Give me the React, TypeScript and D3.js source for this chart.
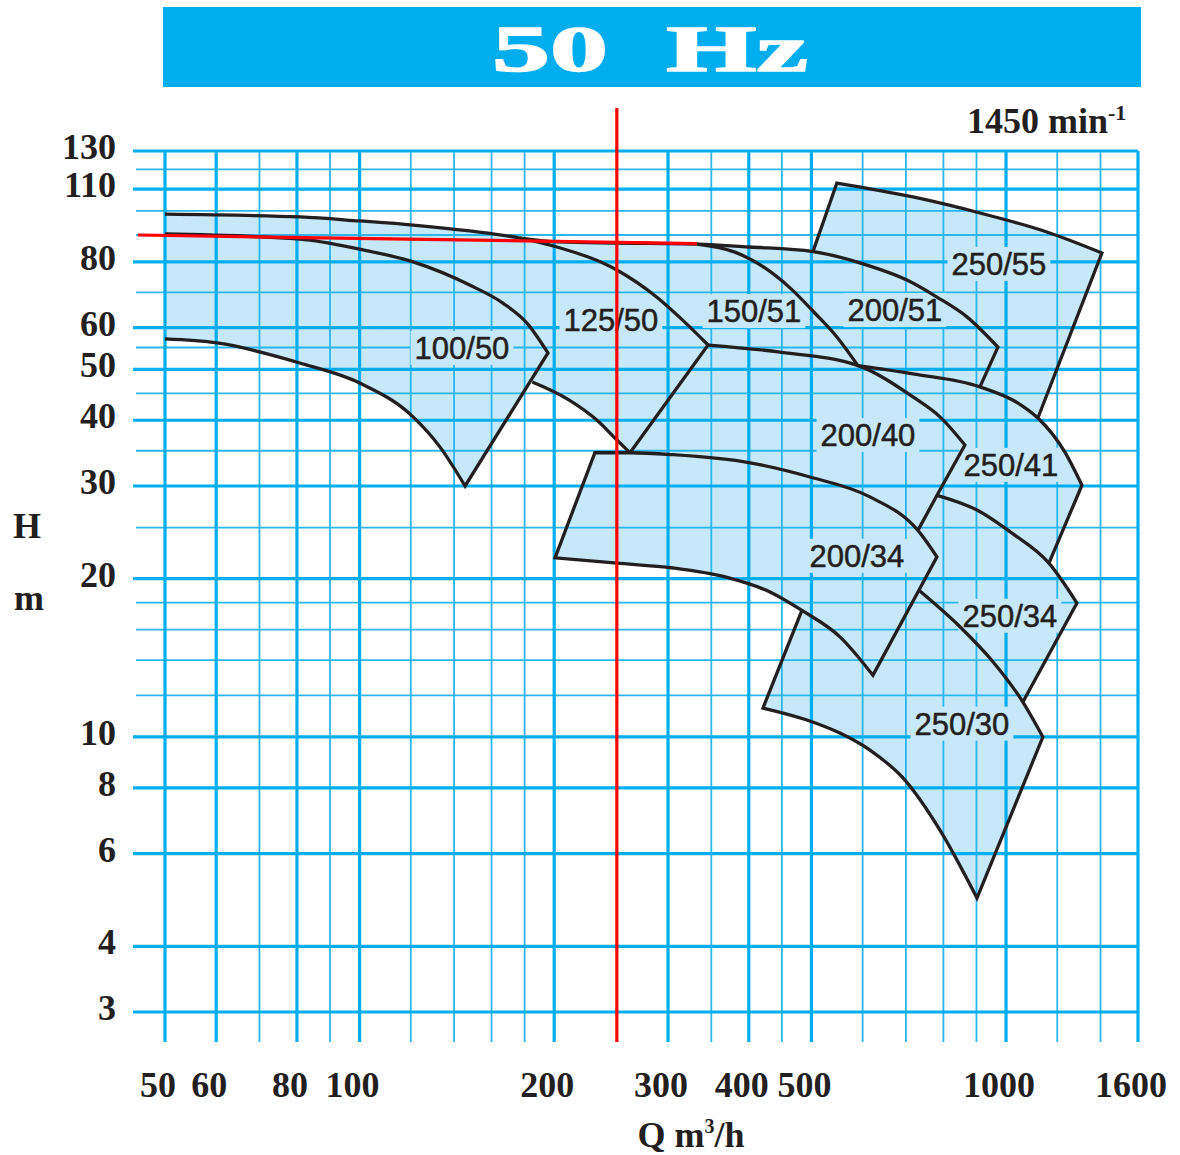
import React from 'react';
import * as d3 from 'd3';

type Pt = [number, number]; // [Q m³/h, H m]

// Grid values
const qMajor = [50, 60, 80, 100, 200, 300, 400, 500, 1000, 1600];
const qMinor = [70, 90, 120, 140, 160, 180, 250, 350, 450, 600, 700, 800, 900, 1200, 1400];
const hMajor = [3, 4, 6, 8, 10, 20, 30, 40, 50, 60, 80, 110, 130];
const hMinor = [12, 14, 16, 18, 25, 35, 45, 55, 70, 90, 100, 120];

// 100/50
const c100Top: Pt[] = [[50, 90.4], [80.8, 88.4], [100, 84.6], [121, 80.0], [148, 72.3], [166.6, 66.8], [181.5, 61.2], [195.6, 53.7]];
const c100Edge: Pt[] = [[195.6, 53.7], [145.6, 30.0]];
const c100Bot: Pt[] = [[145.6, 30.0], [133.1, 35.6], [121, 40.6], [100, 47.1], [80.8, 51.4], [60.2, 56.1], [50, 57.1]];

// 125/50
const c125TopA: Pt[] = [[50, 98.6], [81, 97.4], [100, 95.7], [121, 94.0], [148, 91.6], [177, 88.8]];
const c125TopB: Pt[] = [[177, 88.8], [202, 85.4], [250, 77.2], [288, 68.6], [316, 62.0], [346, 55.6]];
const c125Edge: Pt[] = [[346, 55.6], [262, 34.7]];
const c125Bot: Pt[] = [[262, 34.7], [250, 36.7], [233, 40.0], [211, 43.7], [185, 47.3]];
const c125BotHidden: Pt[] = [[185, 47.3], [148, 52.1], [100, 60.7], [50, 67.7]];

// 150/51 and 200/51
const c200_51TopA: Pt[] = [[177, 88.8], [204, 87.3], [250, 86.9], [332.5, 86.5]];
const c200_51TopB: Pt[] = [[332.5, 86.5], [401.7, 85.4], [502.7, 83.7]];
const c200_51TopC: Pt[] = [[502.7, 83.7], [609.3, 78.9], [702.5, 73.9], [781.8, 68.6], [869.9, 62.9], [971.4, 55.1]];
const c200_51Edge: Pt[] = [[971.4, 55.1], [911.2, 46.3]];
const c150Top: Pt[] = [[332.5, 86.5], [380.7, 83.5], [423.7, 77.9], [463.2, 71.4], [506.3, 63.9], [547.4, 57.6], [590, 50.8]];

// 200/40
const c200_40TopA: Pt[] = [[346, 55.6], [446.9, 53.9], [590, 50.8]];
const c200_40TopB: Pt[] = [[590, 50.8], [717.8, 44.3], [790.3, 40.6], [863.7, 35.9]];
const c200_40EdgeA: Pt[] = [[863.7, 35.9], [782, 28.8]];
const c200_40EdgeB: Pt[] = [[782, 28.8], [730.6, 24.7]];

// 250/41
const c250_41TopA: Pt[] = [[590, 50.8], [717.8, 49.0], [911.2, 46.3]];
const c250_41TopB: Pt[] = [[911.2, 46.3], [1050.7, 42.9], [1120.1, 40.4]];
const c250_41TopC: Pt[] = [[1120.1, 40.4], [1233.2, 34.8], [1310.4, 30.1]];
const c250_41Edge: Pt[] = [[1310.4, 30.1], [1165, 21.4]];

// 250/55
const c250_55Left: Pt[] = [[502.7, 83.7], [547.4, 113.0]];
const c250_55Top: Pt[] = [[547.4, 113.0], [717.8, 106.3], [911.2, 99.1], [1156.6, 91.2], [1407, 83.2]];
const c250_55Edge: Pt[] = [[1407, 83.2], [1120.1, 40.4]];

// 250/34
const c250_34TopA: Pt[] = [[782, 28.8], [901.6, 27.0], [1021.2, 24.4], [1165, 21.4]];
const c250_34TopB: Pt[] = [[1165, 21.4], [1287.2, 17.97]];
const c250_34Edge: Pt[] = [[1287.2, 17.97], [1061.9, 11.65]];

// 200/34
const c200_34TopA: Pt[] = [[231.2, 34.7], [262, 34.7]];
const c200_34TopB: Pt[] = [[262, 34.7], [305.3, 34.4], [401.7, 33.2], [497.4, 31.2], [615.8, 28.6], [730.6, 24.7]];
const c200_34TopC: Pt[] = [[730.6, 24.7], [781.8, 22.0]];
const c200_34EdgeA: Pt[] = [[781.8, 22.0], [733.2, 19.0]];
const c200_34EdgeB: Pt[] = [[733.2, 19.0], [622.4, 13.1]];
const c200_34BotA: Pt[] = [[622.4, 13.1], [553.4, 15.5], [483.3, 17.4]];
const c200_34BotB: Pt[] = [[483.3, 17.4], [431.3, 18.86], [370.1, 20.1], [305.3, 20.95], [250.1, 21.4], [200.6, 21.9]];
const c200_34Left: Pt[] = [[200.6, 21.9], [231.2, 34.7]];

// 250/30
const c250_30Left: Pt[] = [[420.7, 11.35], [483.3, 17.4]];
const c250_30TopHidden: Pt[] = [[483.3, 17.4], [534, 20.3], [733.2, 19.0]];
const c250_30TopA: Pt[] = [[733.2, 19.0], [848.5, 16.2], [954.4, 13.9], [1061.9, 11.65]];
const c250_30TopB: Pt[] = [[1061.9, 11.65], [1140.3, 10.0]];
const c250_30Edge: Pt[] = [[1140.3, 10.0], [901.6, 4.94]];
const c250_30Bot: Pt[] = [[901.6, 4.94], [790.3, 6.65], [697.6, 8.28], [615.8, 9.44], [553.4, 10.17], [492, 10.77], [420.7, 11.35]];

// Pump labels
const pumpNames = ['100/50', '125/50', '150/51', '200/51', '250/55', '200/40', '250/41', '200/34', '250/34', '250/30'];
const labelQ = [144, 244.8, 407.4, 673.1, 974.9, 611.5, 1017.4, 587.9, 1013.9, 854.6];
const labelH = [54.9, 62.0, 64.5, 64.8, 79.3, 37.5, 32.9, 22.1, 17.0, 10.6];

// Duty point guide lines
const dutyQ = 250;
const dutyVSpan = [157, 2.63];
const dutyHLine: Pt[] = [[45.4, 90.0], [332.5, 86.7]];

const rev = (a: Pt[]): Pt[] => a.slice().reverse();

// Each region: boundary pieces in traversal order
const regions: Pt[][][] = [
  [c100Top, c100Edge, c100Bot],
  [c125TopA, c125TopB, c125Edge, c125Bot, c125BotHidden],
  [c200_51TopA, c150Top, rev(c200_40TopA), rev(c125TopB)],
  [c200_51TopA, c200_51TopB, c200_51TopC, c200_51Edge, rev(c250_41TopA), rev(c200_40TopA), rev(c125TopB)],
  [c250_55Left, c250_55Top, c250_55Edge, rev(c250_41TopB), rev(c200_51Edge), rev(c200_51TopC)],
  [c200_40TopA, c200_40TopB, c200_40EdgeA, c200_40EdgeB, rev(c200_34TopB)],
  [c250_41TopA, c250_41TopB, c250_41TopC, c250_41Edge, rev(c250_34TopA), rev(c200_40EdgeA), rev(c200_40TopB)],
  [c250_34TopA, c250_34TopB, c250_34Edge, rev(c250_30TopA), rev(c200_34EdgeA), rev(c200_34TopC), rev(c200_40EdgeB)],
  [c200_34TopA, c200_34TopB, c200_34TopC, c200_34EdgeA, c200_34EdgeB, c200_34BotA, c200_34BotB, c200_34Left],
  [c250_30Left, c250_30TopHidden, c250_30TopA, c250_30TopB, c250_30Edge, c250_30Bot],
];

// Visible outlines: each is a list of runs; pieces within a run join smoothly
const outlines: { runs: Pt[][][]; closed?: boolean }[] = [
  { runs: [[c125TopA, c125TopB], [c125Edge]] },
  { runs: [[c100Top], [c100Edge], [c100Bot]] },
  { runs: [[c125Bot]] },
  { runs: [[c200_51TopA, c200_51TopB, c200_51TopC], [c200_51Edge]] },
  { runs: [[c150Top]] },
  { runs: [[c200_40TopA, c200_40TopB], [c200_40EdgeA, c200_40EdgeB]] },
  { runs: [[c250_41TopA, c250_41TopB, c250_41TopC], [c250_41Edge]] },
  { runs: [[c250_55Left], [c250_55Top], [c250_55Edge]] },
  { runs: [[c250_34TopA, c250_34TopB], [c250_34Edge]] },
  { runs: [[c200_34TopA, c200_34TopB, c200_34TopC], [c200_34EdgeA, c200_34EdgeB], [c200_34BotA, c200_34BotB], [c200_34Left]], closed: true },
  { runs: [[c250_30TopA, c250_30TopB], [c250_30Edge], [c250_30Bot], [c250_30Left]] },
];

const SERIF = '"Liberation Serif", "Times New Roman", serif';
const SANS = '"Liberation Sans", Arial, Helvetica, sans-serif';
const INK = '#231F20';
const GRID = '#00AEEF';
const GRID_THIN = '#2BB6EE';
const FILL = '#C6E8F9';

export default function App() {
  const x = d3.scaleLog().domain([50, 1600]).range([165, 1138]);
  const y = d3.scaleLog().domain([3, 130]).range([1012, 151]);
  const [xL, xR] = x.range();
  const [yB, yT] = y.range();

  const seg = d3
    .line<Pt>()
    .x((d) => x(d[0]))
    .y((d) => y(d[1]))
    .curve(d3.curveMonotoneX);

  const merge = (pieces: Pt[][]): Pt[] =>
    pieces.reduce<Pt[]>((acc, p, i) => acc.concat(i === 0 ? p : p.slice(1)), []);

  const chain = (runs: Pt[][], close: boolean) => {
    let d = '';
    runs.forEach((r, i) => {
      const s = seg(r) || '';
      d += i === 0 ? s : 'L' + s.slice(1);
    });
    return close ? d + 'Z' : d;
  };

  const regionPaths = regions.map((parts) => chain(parts, true));
  const outlinePaths = outlines.map((o) => chain(o.runs.map(merge), !!o.closed));

  const labelSize = 31;
  const labelW = labelSize * 3.06 + 8;
  const labelHgt = 34;

  return (
    <div style={{ position: 'absolute', left: 0, top: 0 }}>
      <svg width={1180} height={1155} style={{ display: 'block', background: '#fff' }}>
        {/* title banner */}
        <rect x={xL - 2} y={7} width={xR - xL + 5} height={80} fill={GRID} />
        <text
          x={492}
          y={71}
          textLength={316}
          lengthAdjust="spacingAndGlyphs"
          fill="#fff"
          stroke="#fff"
          strokeWidth={1.5}
          fontFamily={SERIF}
          fontWeight="bold"
          fontSize={66}
          style={{ whiteSpace: 'pre' }}
        >
          {'50  Hz'}
        </text>
        <text x={967} y={133} fill={INK} fontFamily={SERIF} fontWeight="bold" fontSize={36}>
          1450 min
          <tspan dy={-13} fontSize={22}>-1</tspan>
        </text>

        {/* pump coverage areas */}
        <g fill={FILL} stroke="none">
          {regionPaths.map((d, i) => (
            <path key={i} d={d} />
          ))}
        </g>

        {/* grid */}
        <g>
          {qMinor.map((q) => (
            <line key={'qm' + q} x1={x(q)} x2={x(q)} y1={yT} y2={yB + 30} stroke={GRID_THIN} strokeWidth={1.8} />
          ))}
          {hMinor.map((h) => (
            <line key={'hm' + h} x1={xL - 29} x2={xR} y1={y(h)} y2={y(h)} stroke={GRID_THIN} strokeWidth={1.8} />
          ))}
          {qMajor.map((q) => (
            <line key={'qM' + q} x1={x(q)} x2={x(q)} y1={yT} y2={yB + 30} stroke={GRID} strokeWidth={3.2} />
          ))}
          {hMajor.map((h) => (
            <line key={'hM' + h} x1={xL - 32} x2={xR} y1={y(h)} y2={y(h)} stroke={GRID} strokeWidth={3.2} />
          ))}
        </g>

        {/* label backgrounds */}
        <g fill={FILL}>
          {pumpNames.map((n, i) => (
            <rect
              key={n}
              x={x(labelQ[i]) - labelW / 2}
              y={y(labelH[i]) - labelHgt / 2}
              width={labelW}
              height={labelHgt}
            />
          ))}
        </g>

        {/* outlines */}
        <g fill="none" stroke={INK} strokeWidth={3.3} strokeLinejoin="miter" strokeMiterlimit={6}>
          {outlinePaths.map((d, i) => (
            <path key={i} d={d} />
          ))}
        </g>

        {/* pump labels */}
        <g fill={INK} stroke={INK} strokeWidth={0.5} fontFamily={SANS} fontSize={labelSize} textAnchor="middle">
          {pumpNames.map((n, i) => (
            <text key={n} x={x(labelQ[i])} y={y(labelH[i]) + 11}>
              {n}
            </text>
          ))}
        </g>

        {/* duty point guides */}
        <g stroke="#FF0000" strokeWidth={3.2} fill="none">
          <line x1={x(dutyQ)} x2={x(dutyQ)} y1={y(dutyVSpan[0])} y2={y(dutyVSpan[1])} />
          <line x1={x(dutyHLine[0][0])} y1={y(dutyHLine[0][1])} x2={x(dutyHLine[1][0])} y2={y(dutyHLine[1][1])} />
        </g>

        {/* axis tick labels */}
        <g fill={INK} fontFamily={SERIF} fontWeight="bold" fontSize={36}>
          {hMajor.map((h) => (
            <text key={'yl' + h} x={116} y={y(h) + 8} textAnchor="end">
              {h}
            </text>
          ))}
          {qMajor.map((q) => (
            <text key={'xl' + q} x={x(q) - 7} y={1097} textAnchor="middle">
              {q}
            </text>
          ))}
          <text x={27} y={538} textAnchor="middle">H</text>
          <text x={29} y={610} textAnchor="middle">m</text>
          <text x={691} y={1147} textAnchor="middle">
            Q m<tspan dy={-14} fontSize={20}>3</tspan>
            <tspan dy={14}>/h</tspan>
          </text>
        </g>
      </svg>
    </div>
  );
}
